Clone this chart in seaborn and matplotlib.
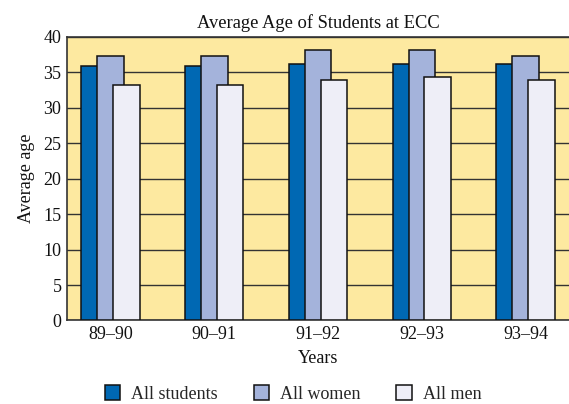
import numpy as np
import pandas as pd
import matplotlib
matplotlib.use("Agg")
import matplotlib.pyplot as plt
import seaborn as sns

YEARS = ["89–90", "90–91", "91–92", "92–93", "93–94"]
ALL_STUDENTS = [35.8, 35.8, 36.2, 36.2, 36.2]
ALL_WOMEN    = [37.3, 37.3, 38.1, 38.1, 37.3]
ALL_MEN      = [33.2, 33.2, 33.9, 34.3, 33.9]

SERIES = ["All students", "All women", "All men"]
COLORS = ["#0068B3", "#A4B3DB", "#EEEEF7"]

df = pd.DataFrame({
    "year": YEARS * 3,
    "series": np.repeat(SERIES, len(YEARS)),
    "age": ALL_STUDENTS + ALL_WOMEN + ALL_MEN,
})

sns.set_theme(style="white")
plt.rcParams["font.family"] = ["Liberation Serif", "DejaVu Serif"]

fig = plt.figure(figsize=(5.69, 4.04), dpi=100)
ax = fig.add_axes([0.1178, 0.2067, 0.8822, 0.7025])
ax.set_facecolor("#FDE9A0")

# overlapping bars: each series shifted a bit, later ones drawn on top
width = 0.255
step = 0.153
x = np.arange(len(YEARS))
for i, (name, color) in enumerate(zip(SERIES, COLORS)):
    vals = df.loc[df["series"] == name, "age"].to_numpy()
    ax.bar(x + (i - 1) * step, vals, width=width, color=color,
           edgecolor="#111111", linewidth=1.1, label=name, zorder=3 + i)

ax.set_xlim(-0.42, len(YEARS) - 1 + 0.42)
ax.set_ylim(0, 40)
ax.set_yticks(range(0, 41, 5))
ax.set_xticks(x)
ax.set_xticklabels(YEARS)
ax.yaxis.grid(True, color="#333333", linewidth=1.0, zorder=1)
ax.set_axisbelow(True)
ax.tick_params(axis="both", length=0, labelsize=13, colors="#111111", pad=4)

for side in ["top", "left", "bottom"]:
    ax.spines[side].set_color("#333333")
    ax.spines[side].set_linewidth(1.2)
ax.spines["right"].set_visible(False)

ax.set_title("Average Age of Students at ECC", fontsize=13.3, pad=6, color="#111111")
ax.set_xlabel("Years", fontsize=13, labelpad=5, color="#111111")
ax.set_ylabel("Average age", fontsize=13, labelpad=6, color="#111111")

handles, labels = ax.get_legend_handles_labels()
fig.legend(handles, labels, loc="center", bbox_to_anchor=(0.515, 0.025), ncol=3,
           frameon=False, fontsize=13, handlelength=0.85, handleheight=0.85,
           columnspacing=2.0, handletextpad=0.6)

fig.savefig("out.png", dpi=100)
